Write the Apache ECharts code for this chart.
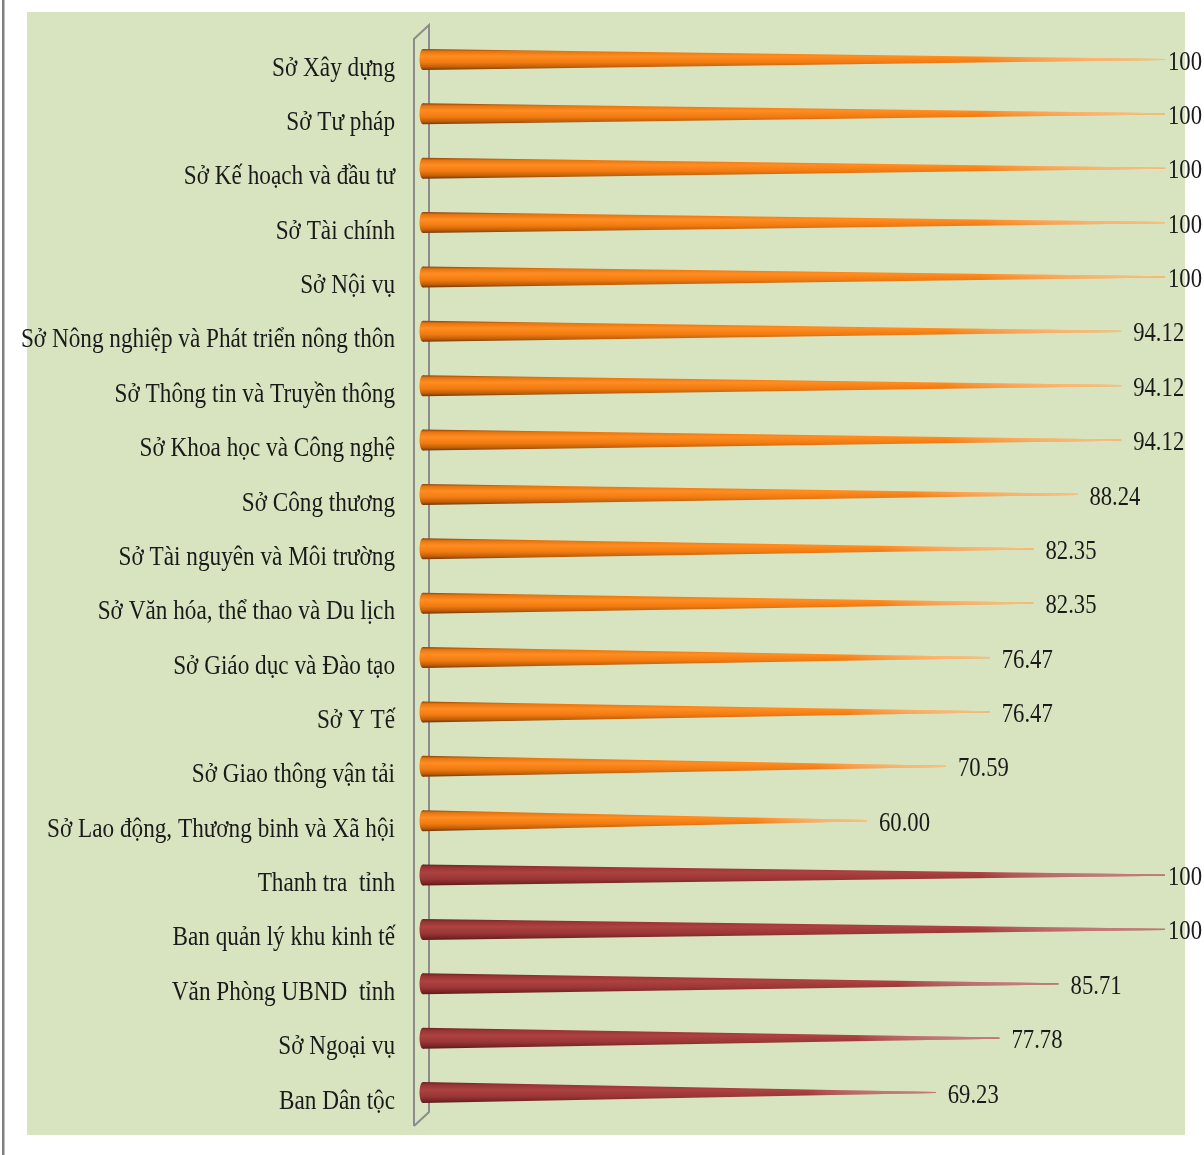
<!DOCTYPE html>
<html>
<head>
<meta charset="utf-8">
<script src="https://cdn.jsdelivr.net/npm/echarts@6/dist/echarts.min.js"></script>
<style>html,body{margin:0;padding:0;background:#fff;}#c{width:1204px;height:1155px;}</style>
</head>
<body>
<div id="c"></div>
<script>
const categories = [
  'Sở Xây dựng', 'Sở Tư pháp', 'Sở Kế hoạch và đầu tư', 'Sở Tài chính', 'Sở Nội vụ',
  'Sở Nông nghiệp và Phát triển nông thôn', 'Sở Thông tin và Truyền thông', 'Sở Khoa học và Công nghệ',
  'Sở Công thương', 'Sở Tài nguyên và Môi trường', 'Sở Văn hóa, thể thao và Du lịch',
  'Sở Giáo dục và Đào tạo', 'Sở Y Tế', 'Sở Giao thông vận tải', 'Sở Lao động, Thương binh và Xã hội',
  'Thanh tra  tỉnh', 'Ban quản lý khu kinh tế', 'Văn Phòng UBND  tỉnh', 'Sở Ngoại vụ', 'Ban Dân tộc'
];
const values = [100, 100, 100, 100, 100, 94.12, 94.12, 94.12, 88.24, 82.35, 82.35, 76.47, 76.47, 70.59, 60.00, 100, 100, 85.71, 77.78, 69.23];
const groups = ['so','so','so','so','so','so','so','so','so','so','so','so','so','so','so','other','other','other','other','other'];

const orangeGrad = [
  {offset:0, color:'#8a420c'}, {offset:0.12, color:'#e8760f'}, {offset:0.35, color:'#ff8d22'},
  {offset:0.65, color:'#f07a10'}, {offset:0.86, color:'#c05e08'}, {offset:1, color:'#70360a'}
];
const redGrad = [
  {offset:0, color:'#6a2222'}, {offset:0.14, color:'#9a3434'}, {offset:0.38, color:'#ad4242'},
  {offset:0.68, color:'#9c3636'}, {offset:0.88, color:'#7a2626'}, {offset:1, color:'#561a1a'}
];

const FONT = '27px "Liberation Serif"';
const SX_VAL = 0.84;
const SX_CAT = 0.86;

const chart = echarts.init(document.getElementById('c'), null, {renderer:'canvas'});
const data = values.map((v, i) => [v, i, groups[i] === 'so' ? 0 : 1]);

function renderItem(params, api) {
  const v = api.value(0), idx = api.value(1), g = api.value(2);
  const base = api.coord([0, idx]);
  const tip = api.coord([v, idx]);
  const full = api.coord([100, idx]);
  const h = 21;
  const y = base[1];
  const x0 = base[0];
  const grad = g === 0 ? orangeGrad : redGrad;
  const fade = g === 0 ? 'rgba(250,200,140,0.85)' : 'rgba(200,130,130,0.8)';
  const lx = Math.min(tip[0] + 12, full[0] + 3);
  const txt = v === 100 ? '100' : v.toFixed(2);
  const pts = [[x0 + 3, y - h / 2], [tip[0], y - 0.6], [tip[0], y + 0.6], [x0 + 3, y + h / 2]];
  return {
    type: 'group',
    children: [
      {type: 'polygon', shape: {points: pts},
        style: {fill: new echarts.graphic.LinearGradient(0, 0, 0, 1, grad)}},
      {type: 'polygon', shape: {points: pts},
        style: {fill: new echarts.graphic.LinearGradient(0, 0, 1, 0, [
          {offset:0, color:'rgba(255,255,255,0)'}, {offset:0.75, color:'rgba(255,255,255,0)'},
          {offset:1, color:fade}
        ])}},
      {type: 'ellipse', shape: {cx: x0 + 3, cy: y, rx: 3.5, ry: h / 2},
        style: {fill: new echarts.graphic.LinearGradient(0, 0, 0, 1, grad)}},
      {type: 'text', x: lx, y: y + 3, scaleX: SX_VAL,
        style: {text: txt, fill: '#1a1a1a', font: FONT, align: 'left', verticalAlign: 'middle'}},
      {type: 'text', x: x0 - 25, y: y + 9, scaleX: SX_CAT,
        style: {text: categories[idx], fill: '#1a1a1a', font: FONT, align: 'right', verticalAlign: 'middle'}}
    ]
  };
}

chart.setOption({
  animation: false,
  backgroundColor: '#ffffff',
  graphic: [
    {type:'rect', shape:{x:2, y:0, width:2.5, height:1155}, style:{fill:'#7f7f7f'}, z:-20},
    {type:'rect', shape:{x:27, y:12, width:1158, height:1123}, style:{fill:'#d8e4bf'}, z:-10},
    {type:'polyline', shape:{points:[[414,1126],[414,39],[429,25],[429,1112],[414,1126]]},
     style:{stroke:'#8c8c8c', lineWidth:2, fill:null}, z:-5}
  ],
  grid: {left: 420, right: 39, top: 32.3, bottom: 35.3},
  xAxis: {type:'value', min:0, max:100, show:false},
  yAxis: {
    type:'category', data: categories, inverse:true,
    axisLine:{show:false}, axisTick:{show:false}, splitLine:{show:false},
    axisLabel:{show:false}
  },
  series: [{
    type:'custom', renderItem: renderItem, data: data,
    encode: {x:0, y:1}, clip:false
  }]
});
</script>
</body>
</html>
